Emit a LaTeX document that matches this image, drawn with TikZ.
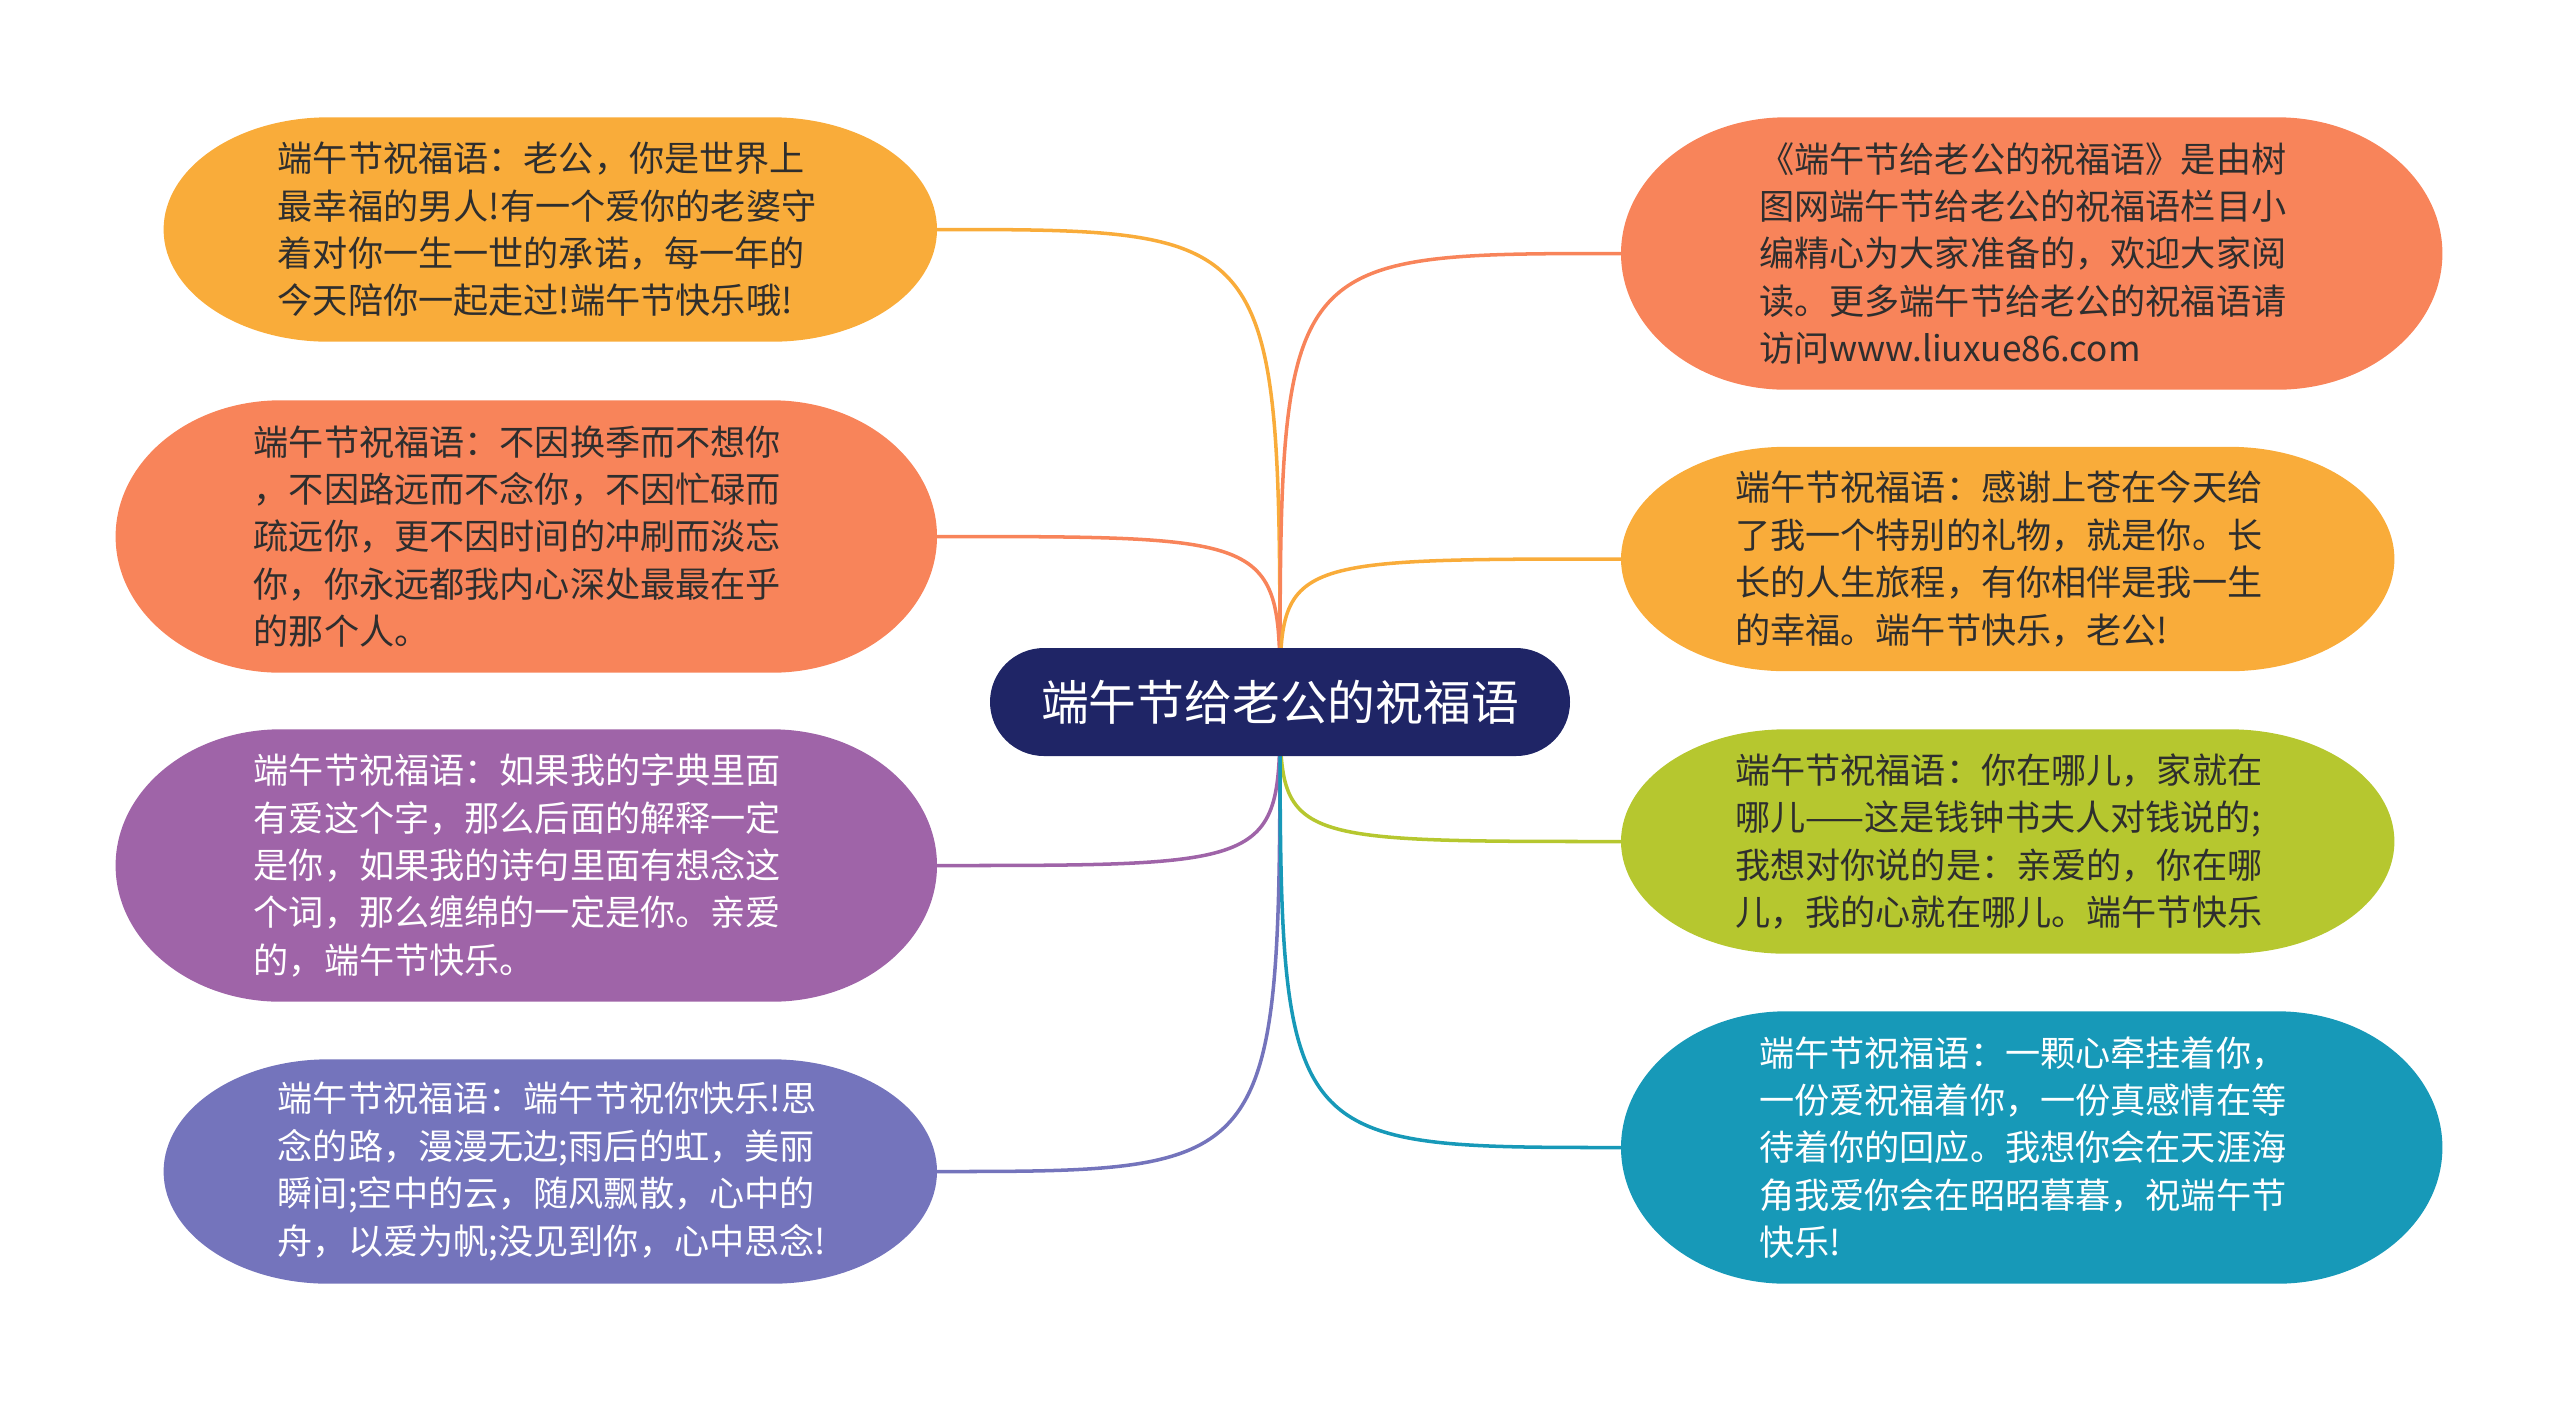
\documentclass[tikz,border=0pt]{standalone}
\usepackage{fontspec}
\newfontfamily\cjkfont{Noto Sans CJK SC}
\usetikzlibrary{backgrounds, calc}
\definecolor{cNavy}{HTML}{1F2566}
\definecolor{cAmber}{HTML}{F9AC3A}
\definecolor{cCoral}{HTML}{F8845A}
\definecolor{cViolet}{HTML}{9F64A8}
\definecolor{cIndigo}{HTML}{7474BC}
\definecolor{cLime}{HTML}{B6C72F}
\definecolor{cTeal}{HTML}{1799B8}

\begin{document}
\begin{tikzpicture}[
  wish/.style={align=left, text width=54.5mm, inner sep=0pt,
               font=\cjkfont\fontsize{10}{13.5}\selectfont, text=black!82},
  card4/.style={wish, minimum width=77.2mm, minimum height=22.3mm},
  card5/.style={wish, minimum width=82mm, minimum height=27.1mm},
  root/.style={fill=cNavy, rounded corners=5.4mm, minimum width=58mm,
               minimum height=10.8mm, text=white,
               font=\cjkfont\fontsize{13.6}{16}\selectfont},
  link/.style={line width=1pt},
]
\useasboundingbox (0,0) rectangle (25.6,-14.02);

% ====================== centre ======================
\node[root] (root) at (12.8,-7.02) {端午节给老公的祝福语};

% ====================== left side ===================
\node[card4, anchor=east] (l1) at (9.37,-2.295)
  {端午节祝福语：老公，你是世界上\\
   最幸福的男人!有一个爱你的老婆守\\
   着对你一生一世的承诺，每一年的\\
   今天陪你一起走过!端午节快乐哦!};
\node[card5, anchor=east] (l2) at (9.37,-5.365)
  {端午节祝福语：不因换季而不想你\\
   ，不因路远而不念你，不因忙碌而\\
   疏远你，更不因时间的冲刷而淡忘\\
   你，你永远都我内心深处最最在乎\\
   的那个人。};
\node[card5, anchor=east, text=white] (l3) at (9.37,-8.655)
  {端午节祝福语：如果我的字典里面\\
   有爱这个字，那么后面的解释一定\\
   是你，如果我的诗句里面有想念这\\
   个词，那么缠绵的一定是你。亲爱\\
   的，端午节快乐。};
\node[card4, anchor=east, text=white] (l4) at (9.37,-11.715)
  {端午节祝福语：端午节祝你快乐!思\\
   念的路，漫漫无边;雨后的虹，美丽\\
   瞬间;空中的云，随风飘散，心中的\\
   舟，以爱为帆;没见到你，心中思念!};

% ====================== right side ==================
\node[card5, anchor=west] (r1) at (16.21,-2.535)
  {《端午节给老公的祝福语》是由树\\
   图网端午节给老公的祝福语栏目小\\
   编精心为大家准备的，欢迎大家阅\\
   读。更多端午节给老公的祝福语请\\
   访问www.liuxue86.com};
\node[card4, anchor=west] (r2) at (16.21,-5.59)
  {端午节祝福语：感谢上苍在今天给\\
   了我一个特别的礼物，就是你。长\\
   长的人生旅程，有你相伴是我一生\\
   的幸福。端午节快乐，老公!};
\node[card4, anchor=west] (r3) at (16.21,-8.415)
  {端午节祝福语：你在哪儿，家就在\\
   哪儿——这是钱钟书夫人对钱说的;\\
   我想对你说的是：亲爱的，你在哪\\
   儿，我的心就在哪儿。端午节快乐};
\node[card5, anchor=west, text=white] (r4) at (16.21,-11.475)
  {端午节祝福语：一颗心牵挂着你，\\
   一份爱祝福着你，一份真感情在等\\
   待着你的回应。我想你会在天涯海\\
   角我爱你会在昭昭暮暮，祝端午节\\
   快乐!};

% ====================== links and capsules ==========
\begin{scope}[on background layer]
  \foreach \k/\c/\a in {l1/cAmber/east, l2/cCoral/east, l3/cViolet/east,
      l4/cIndigo/east, r1/cCoral/west, r2/cAmber/west, r3/cLime/west,
      r4/cTeal/west}{
    \draw[link, draw=\c] (root.center) .. controls (root.center |- \k.\a) .. (\k.\a);
    \fill[\c] let \p1=(\k.north), \p2=(\k.south), \n1={(\y1-\y2)/2} in
      ($(\k.north west)+(16.5mm,0)$) -- ($(\k.north east)+(-16.5mm,0)$)
      arc[start angle=90, end angle=-90, x radius=16.5mm, y radius=\n1]
      -- ($(\k.south west)+(16.5mm,0)$)
      arc[start angle=270, end angle=90, x radius=16.5mm, y radius=\n1] -- cycle;
  }
\end{scope}

\end{tikzpicture}
\end{document}
